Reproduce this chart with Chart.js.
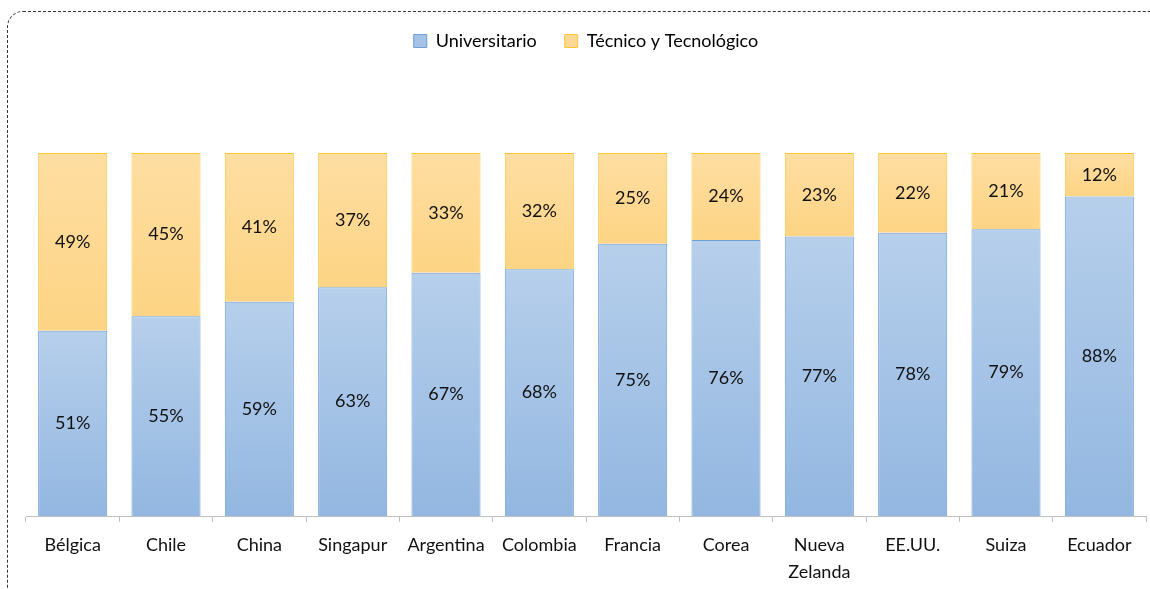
<!DOCTYPE html>
<html>
<head>
<meta charset="utf-8">
<script src="https://cdn.jsdelivr.net/npm/chart.js@4/dist/chart.umd.min.js"></script>
<style>
  html, body { margin: 0; padding: 0; background: #fff; overflow: hidden; }
  #wrap { position: relative; width: 1150px; height: 589px; }
  #frame {
    position: absolute; left: 7px; top: 11px; width: 1170px; height: 600px;
    border: 1px dashed #333; border-radius: 16px;
  }
  #chart { position: absolute; left: 0; top: 0; }
</style>
</head>
<body>
<div id="wrap">
  <div id="frame"></div>
  <canvas id="chart" width="1150" height="589"></canvas>
</div>
<script>
// categories and shares (%)
const countries = ["Bélgica", "Chile", "China", "Singapur", "Argentina", "Colombia",
                   "Francia", "Corea", ["Nueva", "Zelanda"], "EE.UU.", "Suiza", "Ecuador"];
const universitario = [51, 55, 59, 63, 67, 68, 75, 76, 77, 78, 79, 88];
const tecnico = [49, 45, 41, 37, 33, 32, 25, 24, 23, 22, 21, 12];

const FONT = "Lato, 'Open Sans', sans-serif";

// gradient per bar segment, like the original
function segGradient(ctx, c1, c2) {
  const chart = ctx.chart;
  if (!chart.chartArea) return c1;
  const y = chart.scales.y;
  const i = ctx.dataIndex;
  let v0, v1;
  if (ctx.datasetIndex === 0) { v0 = 0; v1 = universitario[i]; }
  else { v0 = universitario[i]; v1 = universitario[i] + tecnico[i]; }
  const g = chart.ctx.createLinearGradient(0, y.getPixelForValue(v1), 0, y.getPixelForValue(v0));
  g.addColorStop(0, c1);
  g.addColorStop(1, c2);
  return g;
}

const barLabels = {
  id: 'barLabels',
  afterDatasetsDraw(chart) {
    const c = chart.ctx;
    c.save();
    c.font = "18px " + FONT;
    c.fillStyle = "#111";
    c.textAlign = "center";
    c.textBaseline = "middle";
    chart.data.datasets.forEach((ds, di) => {
      chart.getDatasetMeta(di).data.forEach((bar, i) => {
        const mid = (bar.y + bar.base) / 2;
        c.fillText(ds.data[i] + "%", bar.x, mid);
      });
    });
    c.restore();
  }
};

const legendSpace = {
  id: 'legendSpace',
  beforeInit(chart) {
    const orig = chart.legend.fit;
    chart.legend.fit = function () {
      orig.bind(chart.legend)();
      this.height += 93;
    };
  }
};

new Chart(document.getElementById("chart"), {
  type: 'bar',
  data: {
    labels: countries,
    datasets: [{
      label: "Universitario",
      data: universitario,
      backgroundColor: ctx => segGradient(ctx, "#b6cfeb", "#93b7e1"),
      borderColor: "#6d9ed6",
      borderWidth: 1,
      barPercentage: 0.74,
      categoryPercentage: 1
    }, {
      label: "Técnico y Tecnológico",
      data: tecnico,
      backgroundColor: ctx => segGradient(ctx, "#fedea2", "#fdd484"),
      borderColor: "#fcc43a",
      borderWidth: 1,
      barPercentage: 0.74,
      categoryPercentage: 1
    }]
  },
  options: {
    responsive: false,
    animation: false,
    layout: { padding: { left: 26, right: 4, top: 4, bottom: -7 } },
    plugins: {
      legend: {
        labels: {
          font: { size: 18, family: FONT },
          color: "#111",
          boxWidth: 13,
          boxHeight: 13,
          padding: 28,
          generateLabels(chart) {
            return chart.data.datasets.map((ds, i) => ({
              text: ds.label,
              fillStyle: i === 0 ? "#a5c3e6" : "#fed996",
              strokeStyle: ds.borderColor,
              lineWidth: 1,
              datasetIndex: i
            }));
          }
        }
      },
      tooltip: { enabled: false }
    },
    scales: {
      x: {
        stacked: true,
        grid: { offset: true, drawOnChartArea: false, drawTicks: true, tickLength: 6, color: "#bfbfbf" },
        border: { color: "#bfbfbf" },
        ticks: { font: { size: 18, family: FONT, lineHeight: 1.5 }, color: "#111", padding: 10, maxRotation: 0 }
      },
      y: {
        stacked: true,
        display: false,
        min: 0,
        max: 100
      }
    }
  },
  plugins: [barLabels, legendSpace]
});
</script>
</body>
</html>
